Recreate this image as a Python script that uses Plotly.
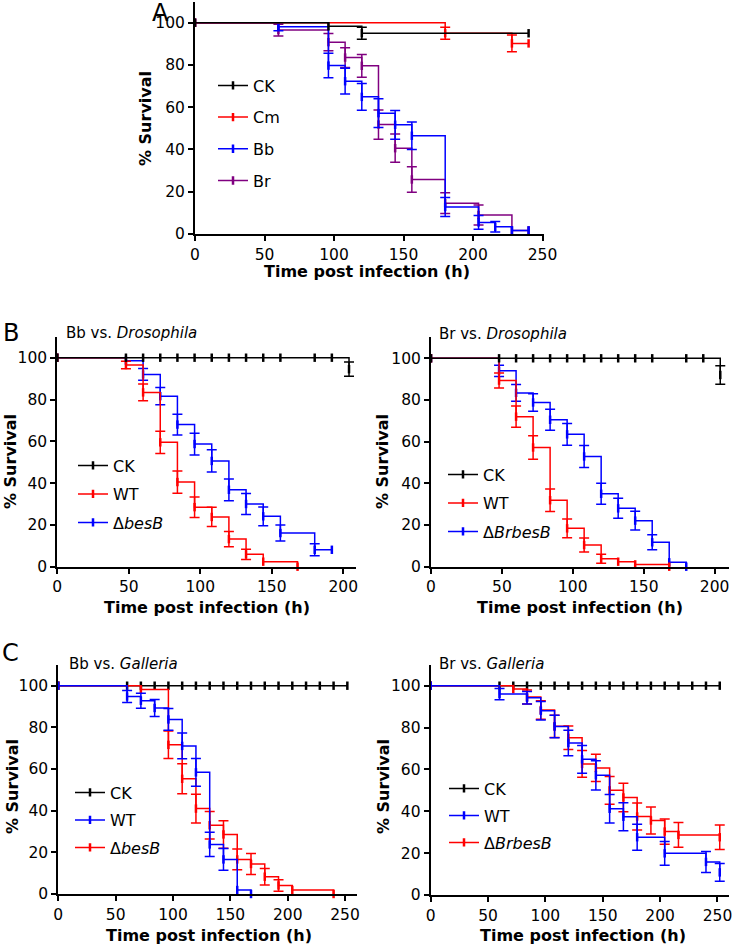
import plotly.graph_objects as go

W, H = 733, 947
FONT = "DejaVu Sans"
BLACK, RED, BLUE, PURPLE = "#000000", "#FF0000", "#0000FF", "#800080"

# ---------------- Panel A ----------------
a_ck_t = [0, 96, 120, 240]
a_ck_s = [100, 98.3, 95.0, 95.0]
a_ck_e = [None, None, 2.8, None]

a_cm_t = [0, 180, 228, 240]
a_cm_s = [100, 95.0, 90.2, 90.2]
a_cm_e = [None, 2.8, 4.0, None]

a_bb_t = [0, 60, 96, 108, 120, 132, 144, 156, 180, 204, 216, 228, 240]
a_bb_s = [100, 98.1, 79.7, 72.3, 64.9, 57.2, 51.7, 46.5, 12.8, 5.5, 3.4, 1.7, 1.7]
a_bb_e = [None, 1.9, 5.8, 6.1, 6.3, 6.8, 6.8, 6.5, 4.5, 3.2, 2.5, None, None]

a_br_t = [0, 60, 96, 108, 120, 132, 144, 156, 180, 204, 228, 240]
a_br_s = [100, 96.5, 90.8, 83.5, 79.6, 51.8, 40.6, 25.8, 14.6, 9.0, 1.7, 1.7]
a_br_e = [None, 2.8, 4.1, 4.7, 5.4, 6.9, 6.7, 6.0, 4.9, 4.7, None, None]

# ---------------- Panel B (Drosophila) ----------------
b1_ck_t = [0, 48, 60, 72, 84, 96, 108, 120, 132, 144, 156, 180, 192, 204]
b1_ck_s = [100, 100, 100, 100, 100, 100, 100, 100, 100, 100, 100, 100, 100, 94.5]
b1_ck_e = [None] * 13 + [3.4]

b1_wt_t = [0, 48, 60, 72, 84, 96, 108, 120, 132, 144, 168]
b1_wt_s = [100, 96.5, 83.4, 59.5, 40.5, 28.5, 23.8, 13.2, 5.9, 2.4, 0]
b1_wt_e = [None, 1.8, 4.0, 5.3, 5.3, 4.9, 4.6, 3.6, 2.4, None, None]

b1_mu_t = [0, 48, 60, 72, 84, 96, 108, 120, 132, 144, 156, 180, 192]
b1_mu_s = [100, 98.6, 92.0, 81.6, 68.0, 58.7, 50.6, 36.8, 30.0, 24.1, 16.1, 8.1, 8.1]
b1_mu_e = [None, None, 2.8, 4.1, 5.0, 5.2, 5.3, 5.2, 5.0, 4.5, 3.8, 2.9, None]

b2_ck_t = [0, 48, 60, 72, 84, 96, 108, 120, 132, 144, 156, 180, 192, 204]
b2_ck_s = [100, 100, 100, 100, 100, 100, 100, 100, 100, 100, 100, 100, 100, 92.0]
b2_ck_e = [None] * 13 + [4.4]

b2_wt_t = [0, 48, 60, 72, 84, 96, 108, 120, 132, 144, 168]
b2_wt_s = [100, 89.3, 72.0, 57.2, 31.9, 18.4, 10.4, 3.8, 2.4, 1.1, 0]
b2_wt_e = [None, 3.6, 5.1, 5.6, 5.4, 4.5, 3.4, 2.2, None, None, None]

b2_mu_t = [0, 48, 60, 72, 84, 96, 108, 120, 132, 144, 156, 168, 180]
b2_mu_s = [100, 94.0, 83.4, 78.8, 70.5, 63.5, 52.9, 35.0, 28.0, 22.1, 11.7, 2.1, 0]
b2_mu_e = [None, 2.7, 4.0, 4.2, 5.0, 5.2, 5.3, 5.0, 4.8, 4.5, 3.6, None, None]

# ---------------- Panel C (Galleria) ----------------
c_ck_t = [0, 60, 72, 84, 96, 108, 120, 132, 144, 156, 168, 180, 192, 204, 216, 228, 240, 252]
c_ck_s = [100] * 18

c1_wt_t = [0, 60, 72, 84, 96, 108, 120, 132, 144, 156, 168]
c1_wt_s = [100, 94.8, 92.8, 89.3, 83.8, 71.1, 58.4, 23.8, 16.6, 1.9, 0]
c1_wt_e = [None, 2.9, 3.6, 4.1, 5.2, 6.2, 6.7, 5.8, 5.2, None, None]

c1_mu_t = [0, 72, 96, 108, 120, 132, 144, 156, 168, 180, 192, 204, 240]
c1_mu_s = [100, 98.2, 71.6, 55.3, 41.0, 33.0, 28.6, 16.6, 14.4, 8.3, 4.1, 1.9, 0]
c1_mu_e = [None, None, 6.6, 7.2, 6.9, 6.6, 6.6, 5.0, 5.0, 4.0, 2.8, None, None]

c2_wt_t = [0, 60, 84, 96, 108, 120, 132, 144, 156, 168, 180, 204, 240, 252]
c2_wt_s = [100, 96.0, 94.2, 88.0, 80.5, 72.6, 64.8, 57.2, 41.2, 37.4, 27.6, 19.9, 15.8, 10.8]
c2_wt_e = [None, 2.7, 3.0, 4.4, 5.4, 6.1, 6.6, 7.0, 6.8, 6.7, 6.2, 5.7, 5.0, 4.2]

c2_mu_t = [0, 72, 84, 96, 108, 120, 132, 144, 156, 168, 180, 192, 204, 216, 252]
c2_mu_s = [100, 98.4, 94.6, 88.4, 80.6, 75.1, 62.6, 60.7, 50.0, 46.6, 37.5, 35.6, 30.3, 28.7, 27.6]
c2_mu_e = [None, None, 3.3, 4.4, 5.3, 5.6, 6.4, 6.5, 6.6, 6.8, 6.5, 6.4, 6.0, 5.9, 5.9]

x_ticks_a = [0, 50, 100, 150, 200, 250]
x_ticks_b = [0, 50, 100, 150, 200]
x_ticks_c = [0, 50, 100, 150, 200, 250]
y_ticks = [0, 20, 40, 60, 80, 100]

fig = go.Figure()


def add_series(t, s, e, color, name, xa, ya, legend, rank):
    fig.add_trace(go.Scatter(
        x=t, y=s, mode="lines+markers", name=name,
        line=dict(color=color, width=1.5, shape="hv"),
        marker=dict(symbol="line-ns", size=6, color=color,
                    line=dict(color=color, width=2.5)),
        xaxis=xa, yaxis=ya, legend=legend, legendrank=rank,
        legendgroup=legend + name, showlegend=True, cliponaxis=False,
        hoverinfo="skip"))
    if e is not None:
        idx = [i for i, v in enumerate(e) if v is not None]
        if idx:
            fig.add_trace(go.Scatter(
                x=[t[i] for i in idx], y=[s[i] for i in idx],
                mode="markers", marker=dict(size=1, color="rgba(0,0,0,0)"),
                error_y=dict(type="data", array=[e[i] for i in idx],
                             color=color, thickness=1.5, width=5),
                xaxis=xa, yaxis=ya, showlegend=False, cliponaxis=False,
                legendgroup=legend + name, hoverinfo="skip"))


# Panel A (draw order: Br, Bb, Cm, CK)
add_series(a_br_t, a_br_s, a_br_e, PURPLE, "Br", "x", "y", "legend", 4)
add_series(a_bb_t, a_bb_s, a_bb_e, BLUE, "Bb", "x", "y", "legend", 3)
add_series(a_cm_t, a_cm_s, a_cm_e, RED, "Cm", "x", "y", "legend", 2)
add_series(a_ck_t, a_ck_s, a_ck_e, BLACK, "CK", "x", "y", "legend", 1)

# Panel B left
add_series(b1_mu_t, b1_mu_s, b1_mu_e, BLUE, "Δ<i>besB</i>", "x2", "y2", "legend2", 3)
add_series(b1_wt_t, b1_wt_s, b1_wt_e, RED, "WT", "x2", "y2", "legend2", 2)
add_series(b1_ck_t, b1_ck_s, b1_ck_e, BLACK, "CK", "x2", "y2", "legend2", 1)

# Panel B right
add_series(b2_mu_t, b2_mu_s, b2_mu_e, BLUE, "Δ<i>BrbesB</i>", "x3", "y3", "legend3", 3)
add_series(b2_wt_t, b2_wt_s, b2_wt_e, RED, "WT", "x3", "y3", "legend3", 2)
add_series(b2_ck_t, b2_ck_s, b2_ck_e, BLACK, "CK", "x3", "y3", "legend3", 1)

# Panel C left
add_series(c_ck_t, c_ck_s, None, BLACK, "CK", "x4", "y4", "legend4", 1)
add_series(c1_mu_t, c1_mu_s, c1_mu_e, RED, "Δ<i>besB</i>", "x4", "y4", "legend4", 3)
add_series(c1_wt_t, c1_wt_s, c1_wt_e, BLUE, "WT", "x4", "y4", "legend4", 2)

# Panel C right
add_series(c_ck_t, c_ck_s, None, BLACK, "CK", "x5", "y5", "legend5", 1)
add_series(c2_mu_t, c2_mu_s, c2_mu_e, RED, "Δ<i>BrbesB</i>", "x5", "y5", "legend5", 3)
add_series(c2_wt_t, c2_wt_s, c2_wt_e, BLUE, "WT", "x5", "y5", "legend5", 2)


def px_x(p):
    return p / W


def px_y(p):
    return 1 - p / H


axis_common = dict(showline=True, linecolor="black", linewidth=2, ticks="outside",
                   ticklen=5, tickwidth=2, tickcolor="black", showgrid=False,
                   zeroline=False, automargin=False,
                   tickfont=dict(family=FONT, size=15.5, color="black"))

# panel geometry in pixels: (x0, px_per_h, xmax, y0px, px_per_unit)
panels = {
    "": (195, 1.39, 251, 234, 2.113, x_ticks_a),
    "2": (57.3, 1.43, 209, 566.7, 2.09, x_ticks_b),
    "3": (431, 1.418, 210, 566.7, 2.084, x_ticks_b),
    "4": (58.3, 1.147, 260, 894, 2.083, x_ticks_c),
    "5": (430.7, 1.147, 260, 895, 2.093, x_ticks_c),
}
layout_axes = {}
for k, (x0, pxh, xmax, y0, pxu, xt) in panels.items():
    layout_axes["xaxis" + k] = dict(
        domain=[px_x(x0), px_x(x0 + pxh * xmax)], range=[0, xmax],
        tickvals=xt, anchor="y" + k, **axis_common)
    layout_axes["yaxis" + k] = dict(
        domain=[px_y(y0), px_y(y0 - pxu * 110)], range=[0, 110],
        tickvals=y_ticks, anchor="x" + k, **axis_common)

legend_common = dict(font=dict(family=FONT, size=16, color="black"),
                     bgcolor="rgba(0,0,0,0)", traceorder="grouped",
                     xanchor="left", yanchor="top", borderwidth=0)


def leg(x, y, gap):
    d = dict(legend_common)
    d.update(x=px_x(x), y=px_y(y), tracegroupgap=gap)
    return d


annotations = []


def ann(text, x, y, size, xanchor="center", angle=0):
    annotations.append(dict(text=text, x=px_x(x), y=px_y(y), xref="paper", yref="paper",
                            xanchor=xanchor, yanchor="middle", showarrow=False,
                            textangle=angle,
                            font=dict(family=FONT, size=size, color="black")))


ann("A", 160, 13, 24)
ann("B", 11, 333, 24)
ann("C", 10, 653, 24)
ann("Bb vs. <i>Drosophila</i>", 64, 333, 15, "left")
ann("Br vs. <i>Drosophila</i>", 437, 334, 15, "left")
ann("Bb vs. <i>Galleria</i>", 67, 664, 15, "left")
ann("Br vs. <i>Galleria</i>", 437, 664, 15, "left")
for (x, y) in [(367, 272), (207, 607), (580, 607), (209, 935), (583, 935)]:
    ann("<b>Time post infection (h)</b>", x, y, 16)
for (x, y) in [(145, 119), (11, 462), (383, 462), (12, 787), (383, 787)]:
    ann("<b>% Survival</b>", x, y, 16, angle=-90)

fig.update_layout(
    width=W, height=H, margin=dict(l=0, r=0, t=0, b=0, autoexpand=False),
    paper_bgcolor="white", plot_bgcolor="white",
    font=dict(family=FONT, color="black"),
    annotations=annotations,
    legend=leg(213, 68.5, 7.9),
    legend2=leg(73, 448.5, 4.7),
    legend3=leg(443, 457.5, 4.7),
    legend4=leg(70, 775.5, 3.7),
    legend5=leg(444, 771.5, 3.2),
    **layout_axes,
)

fig.write_html("out.html", config={"displayModeBar": False},
               post_script="document.body.style.margin='0px';document.body.style.overflow='hidden';")
